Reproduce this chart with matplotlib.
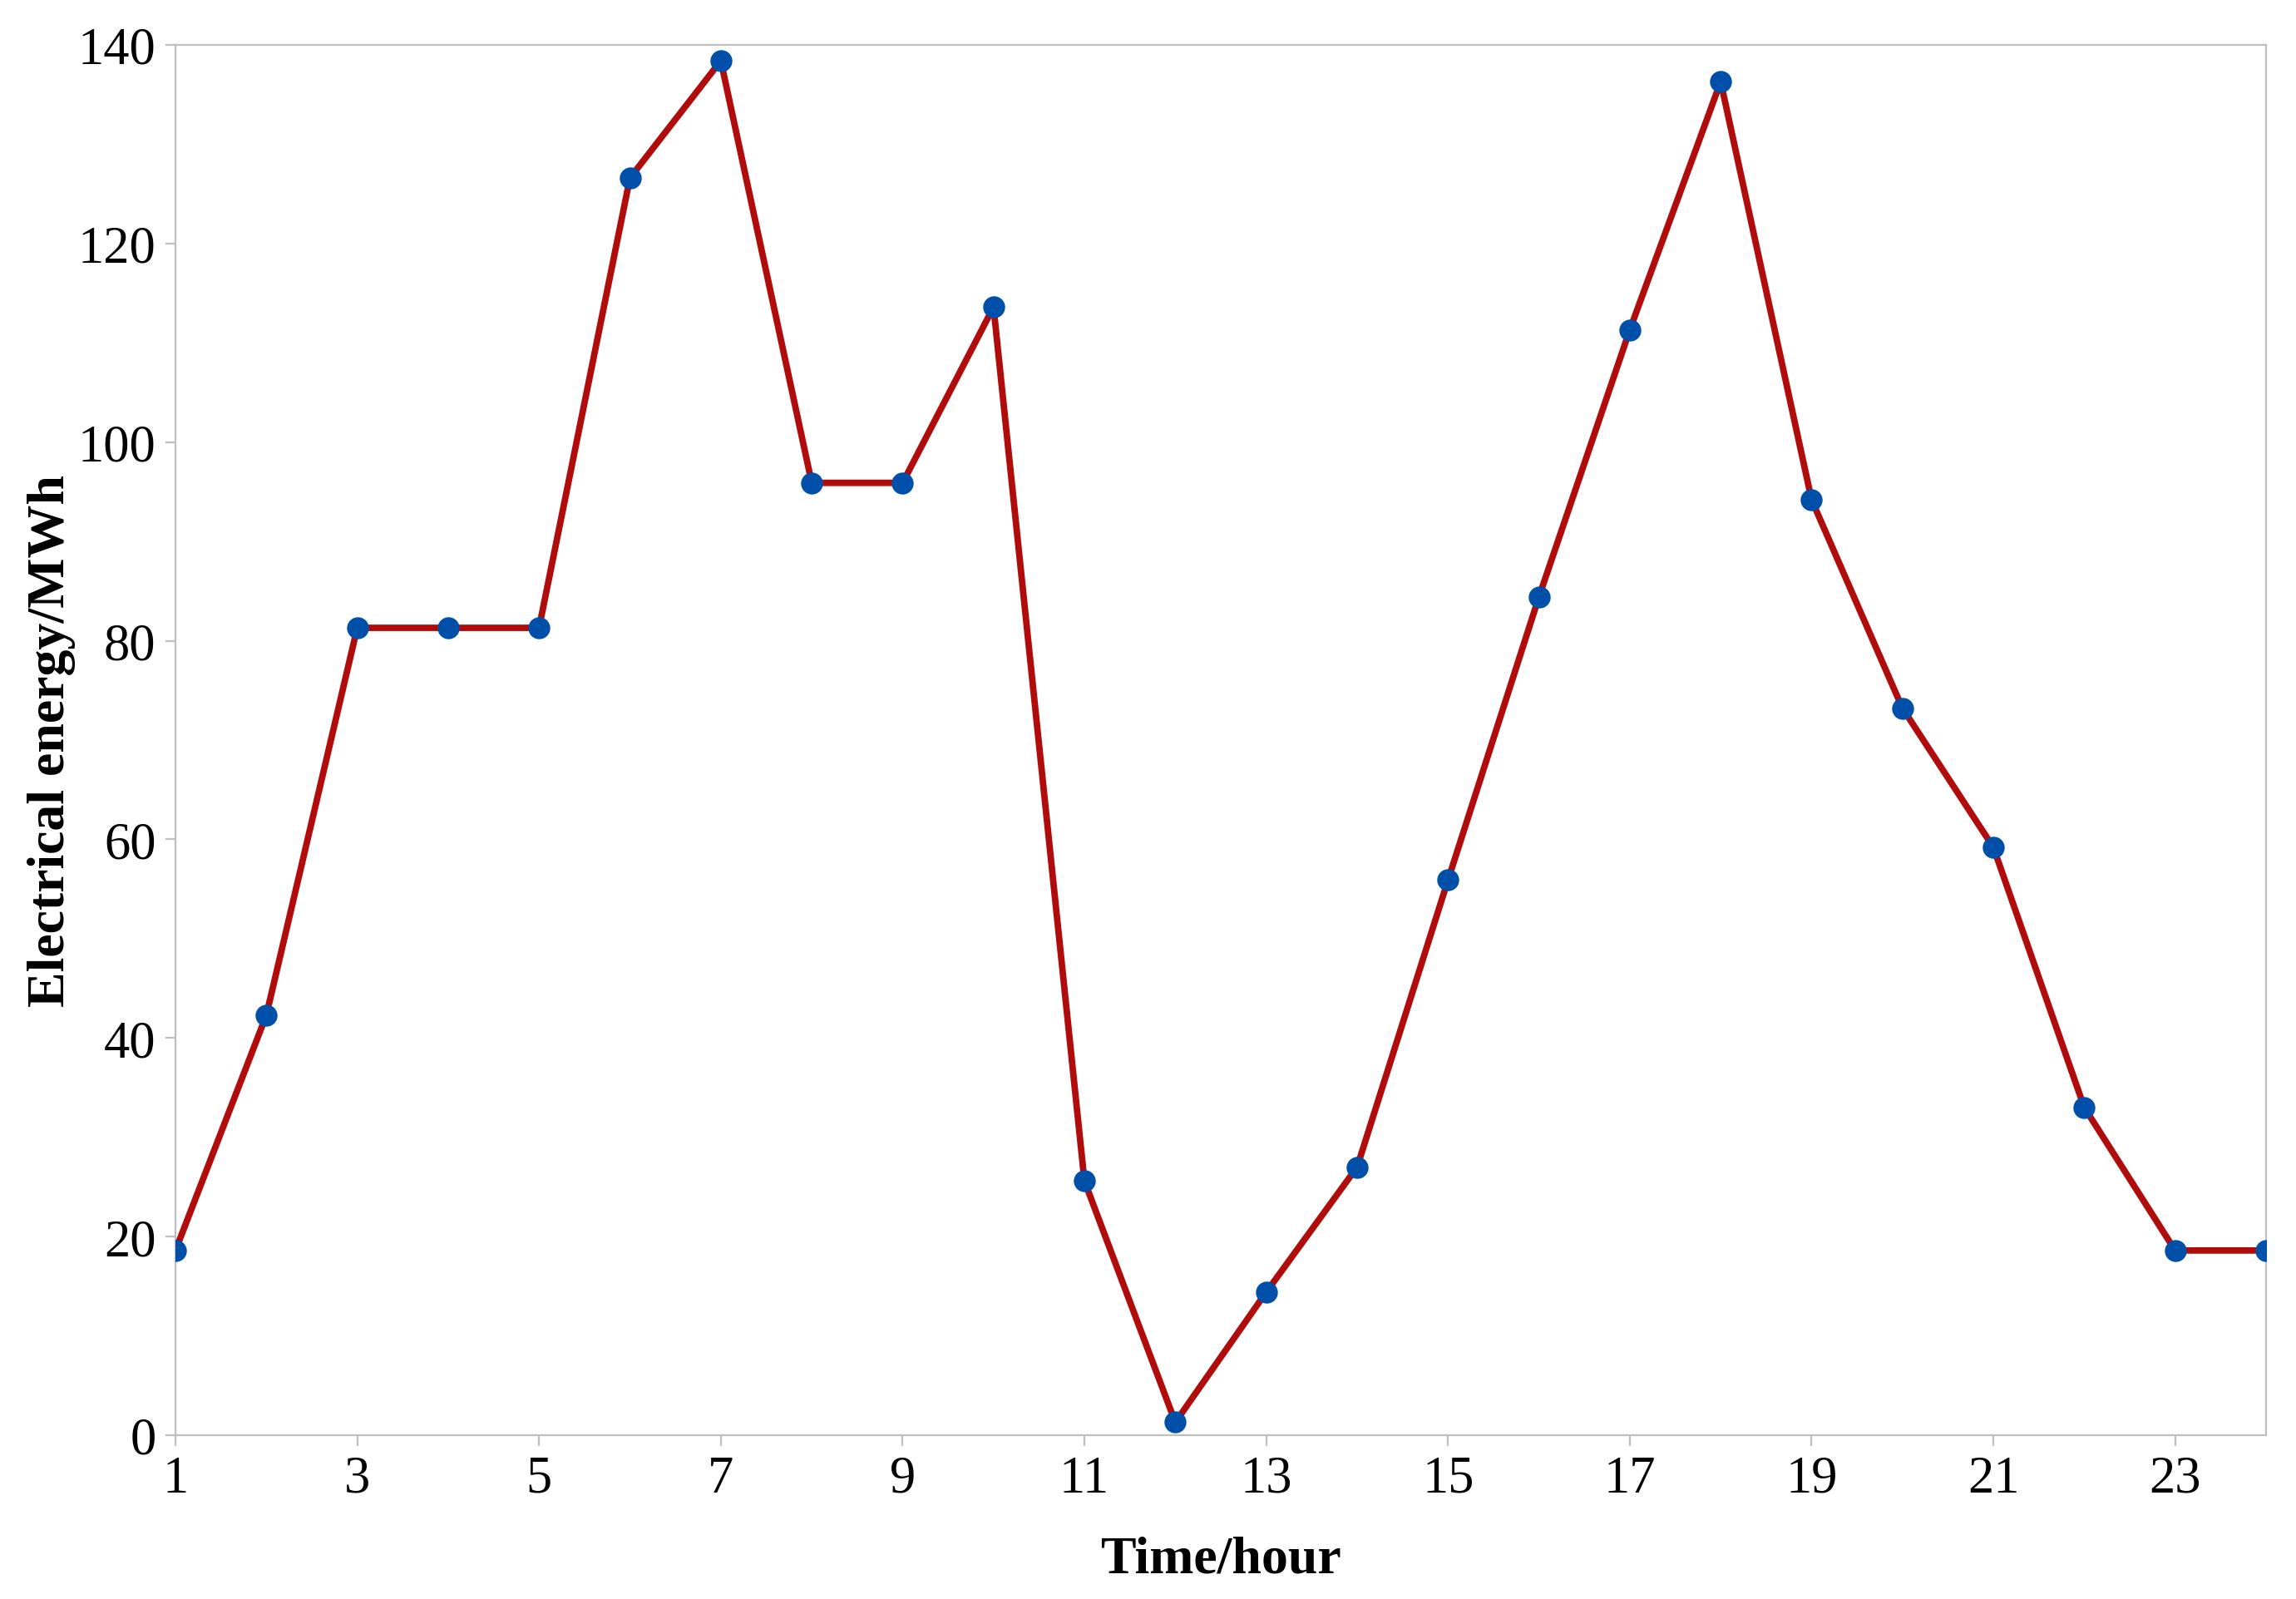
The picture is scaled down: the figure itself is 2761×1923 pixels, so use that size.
import matplotlib
matplotlib.use("Agg")
import matplotlib.pyplot as plt

# datos
horas = list(range(1, 25))
energia = [18.6, 42.3, 81.3, 81.3, 81.3, 126.6, 138.4, 95.9, 95.9, 113.6,
           25.6, 1.3, 14.4, 27.0, 55.9, 84.4, 111.3, 136.3, 94.2, 73.2,
           59.2, 33.0, 18.6, 18.6]
xticks = list(range(1, 24, 2))
yticks = [0, 20, 40, 60, 80, 100, 120, 140]

plt.rcParams['font.family'] = ['Liberation Serif', 'DejaVu Serif']

fig = plt.figure(figsize=(13.805, 9.62), dpi=200)
ax = fig.add_axes([211 / 2761, 1 - 1727 / 1924, (2725 - 211) / 2761, (1727 - 55) / 1924])

ax.plot(horas, energia, color='#B00C0C', lw=2.8, marker='o', ms=8.5,
        markerfacecolor='#0050AA', markeredgecolor='#0050AA', zorder=3)

ax.set_xlim(1, 24)
ax.set_ylim(0, 140)
ax.set_xticks(xticks)
ax.set_yticks(yticks)
for s in ax.spines.values():
    s.set_color('#BFBFBF')
    s.set_linewidth(0.8)
ax.tick_params(colors='#BFBFBF', labelcolor='black', length=4.5, width=0.8,
               labelsize=22.5, pad=4)

ax.set_xlabel('Time/hour', fontsize=23, fontweight='bold', labelpad=14)
ax.set_ylabel('Electrical energy/MWh', fontsize=23, fontweight='bold', labelpad=1)

fig.savefig('out.png', dpi=200)
